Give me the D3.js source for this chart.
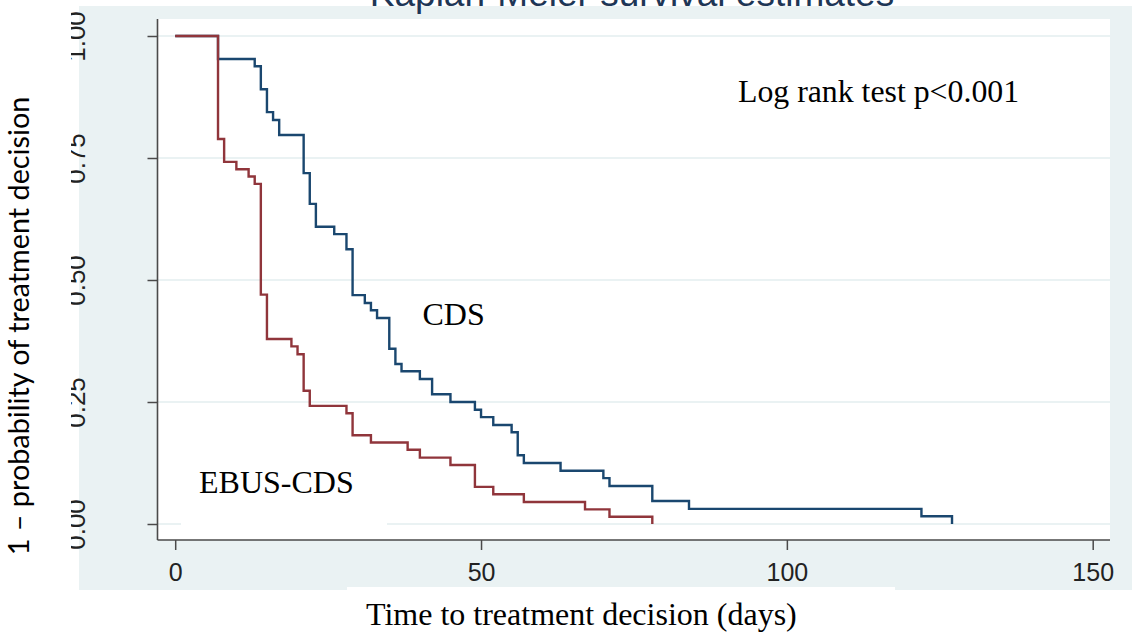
<!DOCTYPE html>
<html>
<head>
<meta charset="utf-8">
<script src="https://cdn.jsdelivr.net/npm/d3@7"></script>
<style>
  html, body { margin: 0; padding: 0; background: #ffffff; }
  svg { display: block; }
</style>
</head>
<body>
<div id="chart"></div>
<script>
// ---- Data ----
const ebusTimes = [0, 7, 8, 10, 12, 13, 14, 15, 19, 20, 21, 22, 28, 29, 32, 38, 40, 45, 49, 52, 57, 67, 71, 78];
const ebusSurv  = [1.0, 0.789, 0.742, 0.727, 0.712, 0.697, 0.470, 0.379, 0.364, 0.348, 0.273, 0.242, 0.227, 0.182, 0.167, 0.152, 0.136, 0.121, 0.076, 0.061, 0.045, 0.030, 0.015, 0.0];

const cdsTimes = [0, 7, 13, 14, 15, 16, 17, 21, 22, 23, 26, 28, 29, 31, 32, 33, 35, 36, 37, 40, 42, 45, 49, 50, 52, 55, 56, 57, 63, 70, 71, 78, 84, 122, 127];
const cdsSurv  = [1.0, 0.953, 0.938, 0.891, 0.844, 0.828, 0.797, 0.719, 0.656, 0.609, 0.594, 0.563, 0.469, 0.453, 0.438, 0.422, 0.359, 0.328, 0.313, 0.297, 0.266, 0.250, 0.234, 0.219, 0.203, 0.188, 0.141, 0.125, 0.109, 0.094, 0.078, 0.047, 0.031, 0.016, 0.0];

const xTicks = [0, 50, 100, 150];
const yTicks = [0, 0.25, 0.5, 0.75, 1.0];
const yTickLabels = ["0.00", "0.25", "0.50", "0.75", "1.00"];

const titleText = "Kaplan-Meier survival estimates";
const xTitle = "Time to treatment decision (days)";
const yTitle = "1 \u2013 probability of treatment decision";
const annotLogRank = "Log rank test p<0.001";
const labelCDS = "CDS";
const labelEBUS = "EBUS-CDS";

// ---- Layout ----
const W = 1132, H = 636;
const BG = "#EAF2F3";
const NAVY = "#1A476F", MAROON = "#90353B", AXIS = "#4a4a4a";
const plotL = 157.5, plotR = 1110, plotT = 19, plotB = 540;

const svg = d3.select("#chart").append("svg").attr("width", W).attr("height", H);

const defs = svg.append("defs");
defs.append("clipPath").attr("id", "ylabClip")
  .append("rect").attr("x", 71).attr("y", 0).attr("width", W).attr("height", H);

const x = d3.scaleLinear().domain([0, 150]).range([175.2, 1092.7]);
const y = d3.scaleLinear().domain([0, 1]).range([524, 36]);

// graph region background
svg.append("rect").attr("x", 79).attr("y", 6).attr("width", W - 79).attr("height", 584).attr("fill", BG);
// plot region
svg.append("rect").attr("x", plotL).attr("y", plotT).attr("width", plotR - plotL).attr("height", plotB - plotT).attr("fill", "#ffffff");

// gridlines
svg.append("g").selectAll("line").data(yTicks).join("line")
  .attr("x1", plotL).attr("x2", plotR)
  .attr("y1", d => y(d)).attr("y2", d => y(d))
  .attr("stroke", BG).attr("stroke-width", 2);

// white box behind EBUS-CDS label (covers gridline)
svg.append("rect").attr("x", 181).attr("y", 456).attr("width", 206).attr("height", 76).attr("fill", "#ffffff");

// curves
const line = d3.line().x(d => x(d[0])).y(d => y(d[1])).curve(d3.curveStepAfter);
const cdsData = cdsTimes.map((t, i) => [t, cdsSurv[i]]);
const ebusData = ebusTimes.map((t, i) => [t, ebusSurv[i]]);
svg.append("path").attr("d", line(cdsData)).attr("fill", "none").attr("stroke", NAVY).attr("stroke-width", 2.4);
svg.append("path").attr("d", line(ebusData)).attr("fill", "none").attr("stroke", MAROON).attr("stroke-width", 2.4);

// white masks (cropped composite)
svg.append("rect").attr("x", 0).attr("y", 0).attr("width", 79).attr("height", H).attr("fill", "#ffffff");
svg.append("rect").attr("x", 0).attr("y", 0).attr("width", W).attr("height", 6).attr("fill", "#ffffff");
svg.append("rect").attr("x", 347).attr("y", 587).attr("width", 548).attr("height", H - 587).attr("fill", "#ffffff");

// axes
const yAxis = d3.axisLeft(y).tickValues(yTicks).tickSize(10).tickFormat((d, i) => yTickLabels[i]);
const gy = svg.append("g").attr("clip-path", "url(#ylabClip)")
  .append("g").attr("transform", `translate(${plotL},0)`).call(yAxis);
gy.select(".domain").remove();
gy.selectAll(".tick line").attr("stroke", AXIS).attr("stroke-width", 1.5);
gy.selectAll(".tick text")
  .attr("x", null).attr("dy", null)
  .attr("text-anchor", "middle")
  .attr("transform", `translate(${85 - plotL},0) rotate(-90)`)
  .attr("font-family", "'Liberation Sans', Arial, sans-serif")
  .attr("font-size", 26).attr("fill", "#222");
svg.append("line").attr("x1", plotL).attr("x2", plotL).attr("y1", plotT).attr("y2", plotB)
  .attr("stroke", AXIS).attr("stroke-width", 1.6);

const xAxis = d3.axisBottom(x).tickValues(xTicks).tickSize(10).tickPadding(5).tickFormat(d3.format("d"));
const gx = svg.append("g").attr("transform", `translate(0,${plotB})`).call(xAxis);
gx.select(".domain").remove();
gx.selectAll(".tick line").attr("stroke", AXIS).attr("stroke-width", 1.5);
gx.selectAll(".tick text")
  .attr("y", 41).attr("dy", null)
  .attr("font-family", "'Liberation Sans', Arial, sans-serif")
  .attr("font-size", 25).attr("fill", "#222");
svg.append("line").attr("x1", plotL).attr("x2", plotR).attr("y1", plotB).attr("y2", plotB)
  .attr("stroke", AXIS).attr("stroke-width", 1.6);

// title (cut off at top, as in the reference)
svg.append("text").attr("x", 632).attr("y", 6).attr("text-anchor", "middle")
  .attr("font-family", "'Liberation Sans', Arial, sans-serif").attr("font-size", 37)
  .attr("fill", "#1e3656").text(titleText);

// axis titles
const serif = "'Liberation Serif', 'Times New Roman', serif";
svg.append("text").attr("x", 366).attr("y", 625)
  .attr("font-family", serif).attr("font-size", 32)
  .attr("fill", "#000").text(xTitle);
svg.append("text").attr("transform", "translate(29,326) rotate(-90)").attr("text-anchor", "middle")
  .attr("font-family", "Lato, 'Liberation Sans', sans-serif").attr("font-size", 28.8)
  .attr("fill", "#000").text(yTitle);

// annotations
svg.append("text").attr("x", 738).attr("y", 102).attr("font-family", serif).attr("font-size", 31.8).attr("fill", "#000").text(annotLogRank);
svg.append("text").attr("x", 422.5).attr("y", 324.5).attr("font-family", serif).attr("font-size", 32).attr("fill", "#000").text(labelCDS);
svg.append("text").attr("x", 199).attr("y", 492.5).attr("font-family", serif).attr("font-size", 32).attr("fill", "#000").text(labelEBUS);
</script>
</body>
</html>
